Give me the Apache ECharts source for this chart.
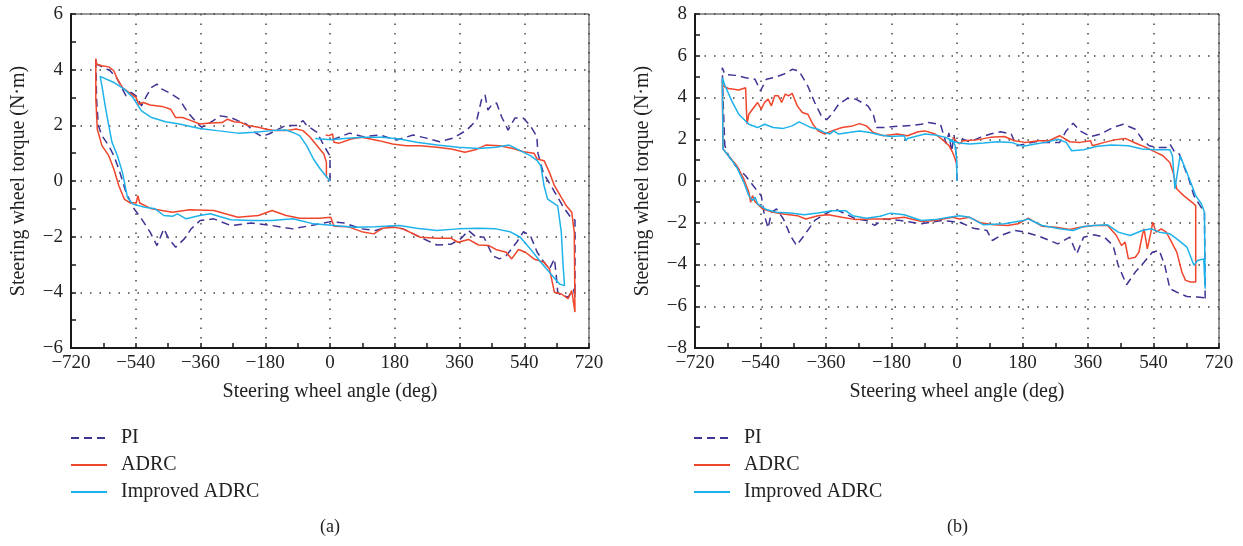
<!DOCTYPE html>
<html>
<head>
<meta charset="utf-8">
<script src="https://cdn.jsdelivr.net/npm/echarts@6/dist/echarts.min.js"></script>
<style>html,body{margin:0;padding:0;background:#fff;}#c{width:1243px;height:546px;}</style>
</head>
<body>
<div id="c"></div>
<script>
// ---------- DATA (angle in deg, torque in N·m) ----------
const seriesNames = ['PI', 'ADRC', 'Improved ADRC'];
const xTicks = [-720, -540, -360, -180, 0, 180, 360, 540, 720];
const yTicksA = [-6, -4, -2, 0, 2, 4, 6];
const yTicksB = [-8, -6, -4, -2, 0, 2, 4, 6, 8];

// (a)
const piA = [[0,0],[0,0.9],[-17,1.27],[-36,1.75],[-65,2.0],[-75,2.17],[-94,1.99],[-122,2.0],[-142,1.87],[-170,1.69],[-190,1.6],[-209,1.75],[-233,2.05],[-256,2.17],[-276,2.28],[-304,2.34],[-333,2.1],[-357,1.93],[-371,2.1],[-395,2.46],[-419,2.94],[-448,3.18],[-467,3.3],[-481,3.48],[-496,3.36],[-510,3.06],[-524,2.7],[-539,3.06],[-553,3.18],[-567,3.06],[-577,3.3],[-591,3.66],[-611,3.96],[-639,4.14],[-649,4.2],[-651,4.4],
[-649,2.94],[-644,1.99],[-634,1.63],[-615,1.27],[-601,0.91],[-587,0.43],[-567,-0.41],[-548,-0.94],[-524,-1.36],[-500,-1.84],[-481,-2.32],[-462,-1.72],[-448,-2.08],[-429,-2.38],[-405,-2.08],[-386,-1.72],[-361,-1.42],[-323,-1.36],[-276,-1.6],[-218,-1.51],[-161,-1.6],[-103,-1.72],[-46,-1.58],[2,-1.46],[40,-1.51],[88,-1.72],[126,-1.78],[165,-1.63],[203,-1.72],[251,-2.02],[297,-2.3],[337,-2.27],[365,-2.06],[385,-1.78],[404,-1.99],[428,-2.02],[452,-2.68],[471,-2.8],[490,-2.68],[519,-2.2],[538,-1.82],[557,-1.96],[576,-2.56],[595,-2.92],[610,-3.16],[624,-2.8],[629,-3.4],[633,-4.0],[643,-4.11],[662,-4.17],[677,-3.88],[681,-4.16],
[681,-1.4],[672,-1.36],[648,-0.92],[621,-0.32],[593,0.29],[578,1.0],[575,1.6],[556,2.0],[537,2.26],[514,2.26],[495,1.83],[477,2.31],[463,2.8],[449,2.73],[439,2.55],[431,3.09],[421,2.91],[408,2.19],[380,1.83],[342,1.54],[305,1.41],[268,1.54],[231,1.65],[185,1.47],[139,1.65],[92,1.59],[55,1.72],[18,1.54],[3,1.47]];

const adrcA = [[-10,0.13],[-10,0.67],[-17,0.97],[-36,1.27],[-55,1.57],[-75,1.81],[-94,1.87],[-122,1.81],[-151,1.81],[-180,1.87],[-199,1.93],[-228,1.99],[-247,2.1],[-266,2.13],[-285,2.22],[-300,2.1],[-333,2.08],[-362,2.05],[-386,2.17],[-410,2.28],[-429,2.28],[-443,2.58],[-467,2.68],[-500,2.73],[-519,2.82],[-532,2.76],[-539,3.0],[-553,3.12],[-577,3.36],[-591,3.66],[-601,3.96],[-615,4.1],[-634,4.14],[-649,4.2],[-651,4.4],
[-651,2.94],[-647,1.87],[-634,1.27],[-615,0.91],[-601,0.43],[-587,-0.17],[-572,-0.65],[-558,-0.77],[-539,-0.79],[-534,-0.53],[-529,-0.79],[-496,-1.0],[-438,-1.12],[-390,-1.03],[-323,-1.06],[-256,-1.3],[-199,-1.24],[-161,-1.06],[-122,-1.24],[-84,-1.34],[-27,-1.34],[2,-1.3],[11,-1.63],[50,-1.64],[88,-1.82],[122,-1.9],[145,-1.7],[179,-1.66],[203,-1.72],[251,-2.02],[297,-2.06],[337,-2.06],[356,-2.2],[385,-2.1],[413,-2.3],[442,-2.32],[461,-2.46],[490,-2.56],[505,-2.8],[524,-2.46],[543,-2.56],[567,-2.8],[595,-2.92],[610,-3.16],[624,-4.0],[643,-4.06],[662,-4.23],[672,-3.94],[681,-4.71],
[679,-1.84],[672,-1.12],[657,-0.89],[643,-0.59],[624,-0.17],[610,0.31],[595,0.73],[576,0.79],[567,1.0],[538,1.05],[509,1.17],[471,1.27],[433,1.29],[404,1.12],[375,1.03],[337,1.15],[297,1.21],[251,1.27],[212,1.27],[174,1.33],[136,1.45],[88,1.57],[59,1.51],[26,1.36],[11,1.39],[7,1.69],[-3,1.63],[-12,1.65]];

const impA = [[0,0],[-3,0.07],[-27,0.43],[-46,0.79],[-65,1.27],[-84,1.63],[-99,1.72],[-122,1.83],[-161,1.81],[-209,1.75],[-256,1.72],[-314,1.81],[-362,1.89],[-419,2.05],[-457,2.13],[-496,2.28],[-524,2.52],[-548,3.0],[-572,3.3],[-601,3.54],[-639,3.76],
[-634,3.42],[-625,2.7],[-615,1.99],[-606,1.39],[-591,0.91],[-577,0.31],[-563,-0.59],[-548,-0.83],[-515,-0.94],[-486,-1.0],[-462,-1.24],[-438,-1.27],[-424,-1.18],[-400,-1.36],[-362,-1.24],[-333,-1.18],[-276,-1.39],[-218,-1.42],[-161,-1.42],[-103,-1.36],[-46,-1.54],[11,-1.6],[69,-1.66],[126,-1.64],[193,-1.6],[241,-1.7],[297,-1.78],[356,-1.72],[413,-1.7],[461,-1.72],[500,-1.82],[529,-2.02],[557,-2.44],[586,-2.92],[614,-3.34],[638,-3.7],[652,-3.76],
[648,-3.04],[643,-1.84],[633,-0.89],[605,-0.65],[595,-0.17],[586,0.55],[576,0.73],[557,0.91],[529,1.09],[498,1.29],[461,1.21],[413,1.17],[356,1.21],[298,1.29],[241,1.39],[193,1.51],[145,1.57],[88,1.57],[40,1.53],[2,1.48],[-41,1.53]];

// (b)
const piB = [[0,0],[-2,1.2],[-8,2.2],[-15,1.4],[-22,2.3],[-30,1.8],[-45,2.7],[-50,2.72],[-79,2.8],[-98,2.72],[-117,2.68],[-145,2.64],[-173,2.61],[-202,2.56],[-221,2.56],[-230,3.2],[-245,3.6],[-278,3.92],[-301,3.96],[-325,3.68],[-344,3.2],[-358,2.93],[-373,3.12],[-391,3.76],[-410,4.55],[-434,5.27],[-453,5.35],[-477,5.11],[-505,4.95],[-524,4.87],[-540,4.32],[-555,4.87],[-581,4.95],[-609,5.06],[-638,5.11],[-645,5.43],
[-643,3.92],[-638,1.69],[-628,1.21],[-609,0.73],[-581,0.25],[-553,-0.38],[-538,-0.7],[-529,-1.66],[-519,-2.26],[-510,-1.5],[-496,-1.34],[-477,-1.82],[-458,-2.61],[-441,-3.09],[-420,-2.61],[-391,-1.89],[-363,-1.58],[-335,-1.34],[-306,-1.58],[-278,-1.82],[-249,-1.89],[-226,-2.13],[-202,-1.82],[-155,-1.89],[-98,-2.05],[-41,-1.89],[7,-1.97],[45,-2.26],[82,-2.37],[97,-2.85],[120,-2.61],[158,-2.37],[187,-2.45],[225,-2.64],[277,-3.01],[310,-2.69],[329,-3.49],[348,-2.69],[376,-2.58],[405,-2.69],[429,-3.09],[443,-4.04],[466,-4.97],[490,-4.36],[514,-3.89],[537,-3.41],[556,-3.33],[571,-4.04],[585,-5.16],[613,-5.4],[632,-5.53],[661,-5.56],[680,-5.6],[682,-5.72],
[680,-1.5],[665,-1.1],[651,-0.7],[637,0.1],[623,0.73],[611,1.29],[599,1.37],[585,1.77],[575,1.61],[547,1.61],[528,1.69],[509,2.0],[490,2.48],[457,2.72],[428,2.56],[395,2.25],[367,2.13],[338,2.4],[319,2.77],[300,2.4],[282,1.85],[244,1.85],[215,1.88],[187,1.77],[163,1.69],[149,2.25],[120,2.36],[92,2.25],[64,2.09],[35,1.88],[16,2.0],[5,2.25]];

const adrcB = [[-3,0.9],[-5,1.05],[-12,1.37],[-22,1.69],[-41,2.0],[-60,2.25],[-88,2.4],[-107,2.36],[-136,2.17],[-164,2.25],[-202,2.17],[-230,2.32],[-249,2.64],[-268,2.75],[-287,2.64],[-316,2.56],[-344,2.4],[-363,2.25],[-382,2.4],[-396,2.72],[-410,3.2],[-425,3.28],[-439,3.6],[-453,4.2],[-463,4.08],[-472,4.16],[-482,3.76],[-491,4.08],[-501,4.08],[-510,3.6],[-519,3.92],[-529,3.76],[-538,3.44],[-548,3.76],[-562,3.44],[-572,3.2],[-577,2.72],[-581,4.47],[-600,4.36],[-628,4.43],[-643,4.55],[-645,4.87],
[-643,1.53],[-628,1.21],[-605,0.73],[-586,0.1],[-572,-0.54],[-567,-1.02],[-562,-0.7],[-555,-0.99],[-534,-1.34],[-505,-1.5],[-477,-1.58],[-439,-1.66],[-415,-1.82],[-382,-1.66],[-354,-1.62],[-316,-1.74],[-278,-1.85],[-240,-1.82],[-192,-1.82],[-145,-1.74],[-98,-1.94],[-60,-1.89],[-12,-1.74],[7,-1.82],[35,-1.74],[64,-2.0],[101,-2.1],[139,-2.13],[168,-2.05],[196,-1.78],[234,-2.17],[272,-2.21],[310,-2.32],[338,-2.21],[376,-2.13],[414,-2.13],[438,-2.61],[452,-3.09],[462,-2.93],[471,-3.73],[490,-3.65],[500,-3.41],[509,-2.61],[514,-2.29],[523,-3.25],[533,-2.45],[538,-1.97],[547,-2.45],[561,-2.29],[575,-2.45],[585,-2.77],[604,-3.41],[618,-4.36],[628,-4.76],[642,-4.84],[656,-4.84],
[656,-1.18],[646,-1.02],[623,-0.7],[604,-0.38],[594,0.41],[585,0.89],[566,1.21],[547,1.37],[519,1.61],[490,1.82],[462,2.04],[433,1.97],[405,1.85],[372,1.69],[367,1.93],[338,1.85],[310,1.88],[282,2.17],[253,1.93],[225,1.93],[187,1.85],[158,1.93],[130,2.13],[92,2.09],[54,1.97],[16,1.93],[7,1.77],[-3,1.93],[-12,2.09]];

const impB = [[0,0],[-1,1.05],[-5,1.69],[-12,1.93],[-31,2.09],[-60,2.2],[-88,2.25],[-107,2.17],[-136,2.04],[-140,1.93],[-145,2.17],[-183,2.13],[-211,2.2],[-240,2.32],[-268,2.4],[-297,2.32],[-325,2.25],[-339,2.4],[-349,2.25],[-363,2.32],[-382,2.48],[-401,2.56],[-434,2.83],[-453,2.64],[-477,2.52],[-505,2.56],[-529,2.72],[-548,2.56],[-572,2.72],[-600,3.2],[-619,3.84],[-638,4.59],[-645,4.95],
[-643,1.53],[-628,1.21],[-605,0.65],[-586,-0.06],[-572,-0.7],[-562,-0.94],[-555,-0.78],[-548,-1.1],[-524,-1.37],[-496,-1.5],[-458,-1.53],[-420,-1.62],[-382,-1.53],[-344,-1.42],[-306,-1.42],[-287,-1.66],[-249,-1.78],[-211,-1.69],[-183,-1.54],[-145,-1.62],[-98,-1.89],[-60,-1.85],[-22,-1.74],[7,-1.66],[35,-1.74],[73,-2.1],[130,-2.05],[182,-1.89],[196,-1.82],[234,-2.13],[282,-2.29],[319,-2.37],[348,-2.18],[376,-2.13],[414,-2.1],[443,-2.45],[476,-2.61],[509,-2.37],[533,-2.29],[556,-2.45],[585,-2.53],[604,-2.77],[632,-3.17],[651,-4.04],[661,-3.81],[678,-3.73],[682,-5.16],
[680,-1.5],[672,-1.1],[656,-0.7],[642,-0.06],[628,0.57],[613,1.21],[604,0.2],[599,-0.38],[592,1.21],[585,1.5],[547,1.5],[509,1.53],[471,1.69],[424,1.72],[386,1.66],[348,1.5],[315,1.45],[300,1.85],[277,2.0],[244,1.85],[215,1.77],[182,1.66],[149,1.85],[111,1.88],[73,1.82],[35,1.77],[7,1.82],[-22,1.93]];

// ---------- STYLE ----------
const FONT = 'Liberation Serif';
const colors = { PI: '#3d3494', ADRC: '#f0462c', 'Improved ADRC': '#1eb2ea' };
const fmt = v => String(v).replace('-', '\u2212');

function xAxisCfg(gridIndex) {
  return {
    gridIndex, type: 'value', min: xTicks[0], max: xTicks[xTicks.length - 1], interval: 180,
    name: 'Steering wheel angle (deg)', nameLocation: 'middle', nameGap: 34,
    nameTextStyle: { fontFamily: FONT, fontSize: 20, color: '#222' },
    axisLine: { show: true, onZero: false, lineStyle: { color: '#1a1a1a', width: 2 } },
    axisTick: { show: true, inside: true, length: 5, lineStyle: { color: '#1a1a1a', width: 1.5 } },
    minorTick: { show: true, splitNumber: 2, length: 5, lineStyle: { color: '#1a1a1a', width: 1.5 } },
    splitLine: { show: true, lineStyle: { type: [1.5, 8], color: '#444', width: 1.5 } },
    axisLabel: { fontFamily: FONT, fontSize: 19, color: '#222', margin: 6, formatter: fmt }
  };
}
function yAxisCfg(gridIndex, ticks) {
  return {
    gridIndex, type: 'value', min: ticks[0], max: ticks[ticks.length - 1], interval: 2,
    name: 'Steering wheel torque (N\u00b7m)', nameLocation: 'middle', nameGap: 42,
    nameTextStyle: { fontFamily: FONT, fontSize: 20, color: '#222' },
    axisLine: { show: true, onZero: false, lineStyle: { color: '#1a1a1a', width: 2 } },
    axisTick: { show: true, inside: true, length: 5, lineStyle: { color: '#1a1a1a', width: 1.5 } },
    minorTick: { show: true, splitNumber: 2, length: 5, lineStyle: { color: '#1a1a1a', width: 1.5 } },
    splitLine: { show: true, lineStyle: { type: [1.5, 8], color: '#444', width: 1.5 } },
    axisLabel: { fontFamily: FONT, fontSize: 19, color: '#222', margin: 8, formatter: fmt }
  };
}
function mk(name, data, idx) {
  return {
    name, type: 'line', data, xAxisIndex: idx, yAxisIndex: idx,
    symbol: 'none', smooth: false, animation: false,
    lineStyle: { color: colors[name], width: 1.5, type: name === 'PI' ? [8, 5] : 'solid' },
    itemStyle: { color: colors[name] }
  };
}
function legendCfg(left) {
  return {
    orient: 'vertical', left, top: 428, padding: 0, itemWidth: 36, itemHeight: 14, itemGap: 7,
    data: seriesNames, selectedMode: false,
    itemStyle: { opacity: 0 },
    textStyle: { fontFamily: FONT, fontSize: 20, color: '#222', lineHeight: 20, padding: [0, 0, 0, 9] }
  };
}

const chart = echarts.init(document.getElementById('c'), null, { renderer: 'canvas' });
chart.setOption({
  animation: false,
  backgroundColor: '#fff',
  grid: [
    { left: 71, top: 14, width: 518, height: 334, show: true, borderColor: '#333', borderWidth: 1 },
    { left: 695, top: 14, width: 524, height: 334, show: true, borderColor: '#333', borderWidth: 1 }
  ],
  xAxis: [xAxisCfg(0), xAxisCfg(1)],
  yAxis: [yAxisCfg(0, yTicksA), yAxisCfg(1, yTicksB)],
  legend: [legendCfg(70), legendCfg(693)],
  graphic: [
    { type: 'text', left: 320, top: 518, style: { text: '(a)', font: '18px "Liberation Serif"', fill: '#222' } },
    { type: 'text', left: 947, top: 518, style: { text: '(b)', font: '18px "Liberation Serif"', fill: '#222' } }
  ],
  series: [
    mk('PI', piA, 0), mk('ADRC', adrcA, 0), mk('Improved ADRC', impA, 0),
    mk('PI', piB, 1), mk('ADRC', adrcB, 1), mk('Improved ADRC', impB, 1)
  ]
});
</script>
</body>
</html>
